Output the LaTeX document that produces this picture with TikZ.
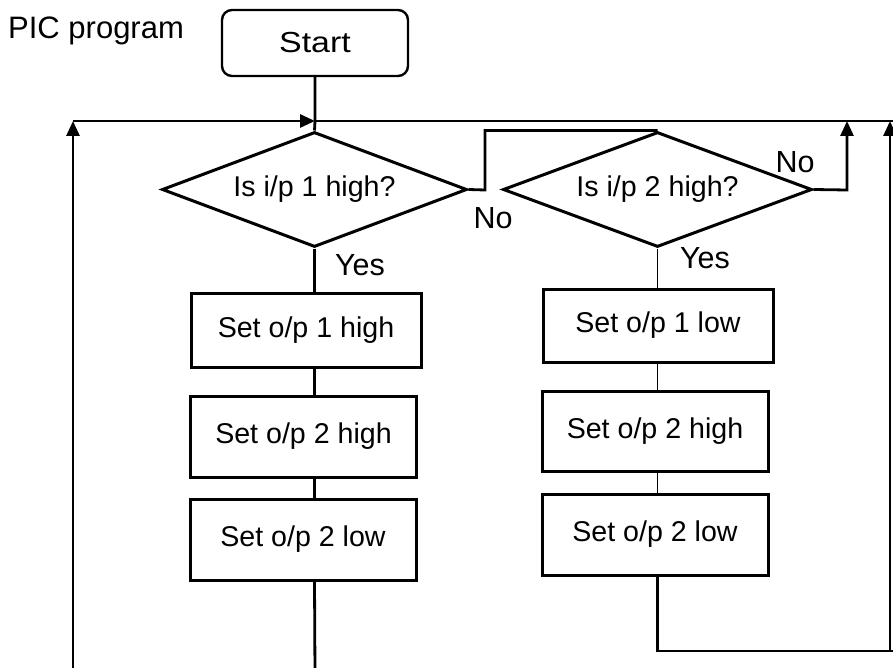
\documentclass[tikz,border=0pt]{standalone}
\usepackage{fontspec}
\setmainfont{Liberation Sans}
\usetikzlibrary{shapes.geometric,arrows.meta}
\begin{document}
\begin{tikzpicture}[x=1pt,y=-1pt,
  box/.style={draw,line width=3pt,rectangle,inner sep=0pt,font=\fontsize{28.6}{34}\selectfont},
  dec/.style={draw,line width=3pt,diamond,aspect=2.6,inner sep=0pt,font=\fontsize{28.6}{34}\selectfont},
  lbl/.style={inner sep=0pt,font=\fontsize{30.5}{36}\selectfont},
  conn/.style={line width=2.8pt},
  thinconn/.style={line width=1.9pt},
  arr/.style={-{Triangle[length=15pt,width=13pt]}},
]
\useasboundingbox (0,0) rectangle (893,668);

% title and start
\node[inner sep=0pt,anchor=base west,font=\fontsize{31}{36}\selectfont] (title) at (8,39) {PIC program};
\node[draw,line width=2.4pt,rounded corners=10pt,minimum width=186pt,minimum height=66pt,inner sep=0pt,font=\fontsize{29}{34}\selectfont] (start) at (315,43) {\scalebox{1.17}[1]{Start}};

% decisions
\node[dec,minimum width=305pt,minimum height=115pt] (d1) at (314.5,189.5) {Is i/p 1 high?};
\node[dec,minimum width=309pt,minimum height=115pt] (d2) at (657.5,189.5) {Is i/p 2 high?};

% left column boxes
\node[box,minimum width=230pt,minimum height=74pt] (b1) at (306,330) {Set o/p 1 high};
\node[box,minimum width=226pt,minimum height=81pt] (b2) at (303.5,436.5) {Set o/p 2 high};
\node[box,minimum width=226pt,minimum height=81pt] (b3) at (303,539.5) {Set o/p 2 low};

% right column boxes
\node[box,minimum width=230pt,minimum height=73pt] (r1) at (658,325.5) {Set o/p 1 low};
\node[box,minimum width=226pt,minimum height=80pt] (r2) at (655,431) {Set o/p 2 high};
\node[box,minimum width=226pt,minimum height=81pt] (r3) at (655,534.5) {Set o/p 2 low};

% labels
\node[lbl] (no1) at (493,218) {No};
\node[lbl] (no2) at (795,162) {No};
\node[lbl] (yes1) at (360,265) {Yes};
\node[lbl] (yes2) at (705,258) {Yes};

% coordinates
\coordinate (J) at (315,121);
\coordinate (LB) at (73,675);
\coordinate (LC) at (73,121);
\coordinate (TR) at (900,121);
\coordinate (n1) at (485,190);
\coordinate (n2) at (847,190);
\coordinate (n2t) at (847,121);
\coordinate (BL) at (315,675);
\coordinate (RB) at (890,651);
\coordinate (RC) at (890,121);

% main flow
\draw[conn] (start.south) -- (J) -- (d1.north);
\draw[thinconn] (J) -- (TR);
\draw[conn,arr] (LB) -- (LC);
\draw[conn,arr] (LC) -- (J);

\draw[conn] (d1.south) -- (d1.south |- b1.north);
\draw[conn] (d1.south |- b1.south) -- (d1.south |- b2.north);
\draw[conn] (d1.south |- b2.south) -- (d1.south |- b3.north);
\draw[conn] (d1.south |- b3.south) -- (BL);

\draw[conn] (d1.east) -- (n1) |- (d2.north);
\draw[conn,arr] (d2.east) -- (n2) -- (n2t);

\draw[thinconn] (d2.south) -- (d2.south |- r1.north);
\draw[thinconn] (d2.south |- r1.south) -- (d2.south |- r2.north);
\draw[thinconn] (d2.south |- r2.south) -- (d2.south |- r3.north);
\draw[conn,arr] (d2.south |- r3.south) |- (RB) -- (RC);
\draw[conn] (RB) -- (900,651);
\end{tikzpicture}
\end{document}
